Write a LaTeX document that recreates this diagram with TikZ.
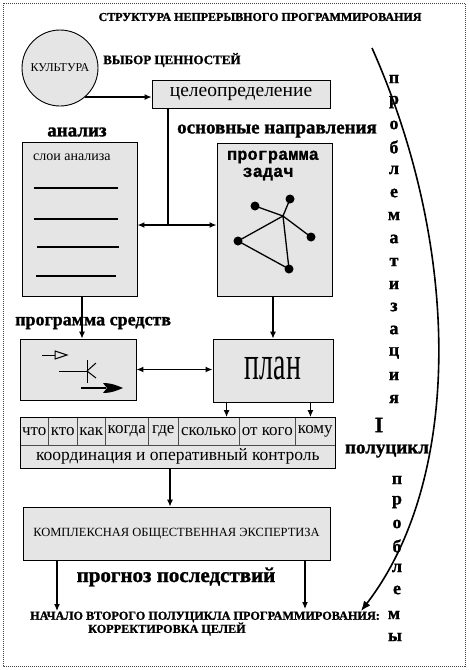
\documentclass[tikz,border=0pt]{standalone}
\usepackage{fontspec}
\setmainfont{Liberation Serif}[BoldFont={Liberation Serif Bold},BoldFeatures={FakeBold=1.2}]
\newfontfamily\monofont{Liberation Mono}[BoldFont={Liberation Mono Bold},BoldFeatures={FakeBold=0.8}]
\usetikzlibrary{arrows.meta,calc}
\definecolor{boxfill}{gray}{0.9}
\tikzset{
  box/.style={draw=black, line width=0.9pt, fill=boxfill, inner sep=0pt},
  cell/.style={draw=black!70, line width=0.6pt, fill=boxfill, inner sep=0pt, minimum height=28pt, font=\fontsize{17}{17}\selectfont},
  arr/.style={line width=1.1pt, -{Latex[length=7pt,width=6pt]}},
  darr/.style={line width=1.8pt, {Latex[length=7pt,width=6pt]}-{Latex[length=7pt,width=6pt]}},
  plain/.style={line width=1.1pt},
  bl/.style={font=\bfseries\fontsize{#1}{#1}\selectfont, inner sep=0pt},
  vl/.style={font=\bfseries\fontsize{18}{18}\selectfont, inner sep=0pt},
  gdot/.style={circle, fill=black, minimum size=9pt, inner sep=0pt},
}
\begin{document}
\begin{tikzpicture}[x=1pt,y=-1pt]
\useasboundingbox (0,0) rectangle (470,670);
\fill[white] (0,0) rectangle (470,670);
\draw[black!75, line width=1pt, densely dotted] (3,3) rectangle (465,666);

% title
\node[bl=12] (title) at (260,17) {СТРУКТУРА НЕПРЕРЫВНОГО ПРОГРАММИРОВАНИЯ};

% culture
\node[circle, draw=black, line width=0.9pt, fill=boxfill, minimum size=76pt, inner sep=0pt,
      font=\fontsize{12}{12}\selectfont] (culture) at (60,68) {КУЛЬТУРА};
\node[bl=13, anchor=west] (vybor) at (103,60) {ВЫБОР ЦЕННОСТЕЙ};

% goal
\node[box, minimum width=178pt, minimum height=28pt, font=\fontsize{19.5}{19.5}\selectfont] (goal) at (241,94) {целеопределение};
\draw[arr] (culture.-49) -- (goal.west |- culture.-49);

% labels
\node[bl=19] (analiz) at (77,132) {анализ};
\node[bl=19] (napr) at (277,131) {основные направления};

% analysis box
\node[box, minimum width=115pt, minimum height=154pt] (anal) at (79.5,219) {};
\node[anchor=west, inner sep=0pt, font=\fontsize{14}{14}\selectfont] (sloi) at (33,157) {слои анализа};
\draw[line width=1.3pt] (34,188) -- (118,188);
\draw[line width=1.3pt] (34,219) -- (118,219);
\draw[line width=1.3pt] (37,247) -- (119,247);
\draw[line width=1.3pt] (36,276) -- (116,276);

% programma zadach box
\node[box, minimum width=115pt, minimum height=153pt] (prog) at (274.5,219.5) {};
\node[inner sep=0pt, font=\monofont\bfseries\fontsize{17}{17}\selectfont] (pz1) at (273,157) {программа};
\node[inner sep=0pt, font=\monofont\bfseries\fontsize{17}{17}\selectfont] (pz2) at (268,174) {задач};
\node[gdot] (gA) at (255,206) {};
\node[gdot] (gB) at (290,199) {};
\coordinate (gC) at (283,216);
\node[gdot] (gD) at (311,237) {};
\node[gdot] (gE) at (238,241) {};
\node[gdot] (gF) at (289,269) {};
\draw[line width=1.3pt] (gA.center) -- (gC) (gB.center) -- (gC) (gC) -- (gD.center)
  (gC) -- (gE.center) (gC) -- (gF.center) (gE.center) -- (gF.center);

% goal -> split
\coordinate (j1) at (168,225);
\draw[plain] (j1 |- goal.south) -- (j1);
\draw[darr] (anal.east |- j1) -- (prog.west |- j1);

% programma sredstv
\node[bl=18, anchor=west] (psred) at (15,323) {программа средств};
\node[box, minimum width=116pt, minimum height=61pt] (sred) at (78,369.5) {};
\draw[line width=1pt] (42,355) -- (55,355);
\draw[line width=1pt] (55,351) -- (67,355) -- (55,359) -- cycle;
\draw[line width=1pt] (59,371) -- (87,371);
\draw[line width=1pt] (87,360) -- (87,383);
\draw[line width=1pt] (87,371) -- (96,363) (87,371) -- (96,378);
\draw[line width=1.2pt] (81,388) -- (106,388);
\fill (103,383) .. controls (112,383) and (118,386) .. (123,388) .. controls (118,390) and (112,393) .. (103,393) -- (107,388) -- cycle;

% plan
\node[box, minimum width=120pt, minimum height=63pt] (plan) at (273,370.5) {};
\node[inner sep=0pt, font=\fontsize{48}{48}\selectfont, xscale=0.58] (plantext) at (273,368) {план};

\draw[arr] (anal.south -| 82,0) -- (sred.north -| 82,0);
\draw[arr] (prog.south -| plan.north) -- (plan.north);
\draw[darr] (sred.east) -- (plan.west |- sred.east);

% table
\node[cell, minimum width=28pt, anchor=north west] (c1) at (20,417) {что};
\node[cell, minimum width=29pt, anchor=north west] (c2) at (48,417) {кто};
\node[cell, minimum width=28pt, anchor=north west] (c3) at (77,417) {как};
\node[cell, minimum width=43pt, anchor=north west] (c4) at (105,417) {когда};
\node[cell, minimum width=30pt, anchor=north west] (c5) at (148,417) {где};
\node[cell, minimum width=61pt, anchor=north west] (c6) at (178,417) {сколько};
\node[cell, minimum width=56pt, anchor=north west] (c7) at (239,417) {от кого};
\node[cell, minimum width=40pt, anchor=north west] (c8) at (295,417) {кому};
\node[cell, minimum width=315pt, minimum height=23pt, anchor=north west, font=\fontsize{17.5}{17.5}\selectfont] (coord) at (20,445) {координация и оперативный контроль};
\draw[line width=0.9pt] (20,417) rectangle (335,468);

\draw[arr] ([xshift=14pt]plan.south west) -- ([xshift=14pt]plan.south west |- c6.north);
\draw[arr] ([xshift=-23pt]plan.south east) -- ([xshift=-23pt]plan.south east |- c8.north);

% expertise
\node[box, minimum width=307pt, minimum height=53pt, font=\fontsize{12.5}{12.5}\selectfont] (expert) at (176.5,533.5) {КОМПЛЕКСНАЯ ОБЩЕСТВЕННАЯ ЭКСПЕРТИЗА};
\draw[arr] (coord.south -| 170,0) -- (expert.north -| 170,0);

\node[bl=21] (prognoz) at (176,577) {прогноз последствий};
\node[bl=12.2, anchor=west] (nachalo) at (30,617) {НАЧАЛО ВТОРОГО ПОЛУЦИКЛА ПРОГРАММИРОВАНИЯ:};
\node[bl=12.2, anchor=west] (korr) at (88,629) {КОРРЕКТИРОВКА ЦЕЛЕЙ};
\coordinate (endL) at (57,611);
\coordinate (endR) at (305,609);
\draw[arr] (expert.south -| endL) -- (endL);
\draw[arr] (expert.south -| endR) -- (endR);

% arc
\coordinate (arcS) at (372,48);
\coordinate (arcE) at (361,611);
\draw[line width=1.6pt, -{Latex[length=10pt,width=8pt]}] (arcS) .. controls (462,250) and (462,480) .. (arcE);

% vertical words
\foreach \ch/\yy in {п/79,р/102,о/125,б/147,л/170,е/193,м/216,а/239,т/262,и/285,з/307,а/330,ц/353,и/376,я/399}
  \node[vl] at (394,\yy) {\ch};
\node[bl=22] (rom) at (379,425) {I};
\node[bl=19] (poluc) at (387,451) {полуцикл};
\foreach \ch/\yy/\xx in {п/480/397,р/502/397,о/524/397,б/546/397,л/568/397,е/590/397,м/615/394,ы/637/395}
  \node[vl] at (\xx,\yy) {\ch};
\end{tikzpicture}
\end{document}
